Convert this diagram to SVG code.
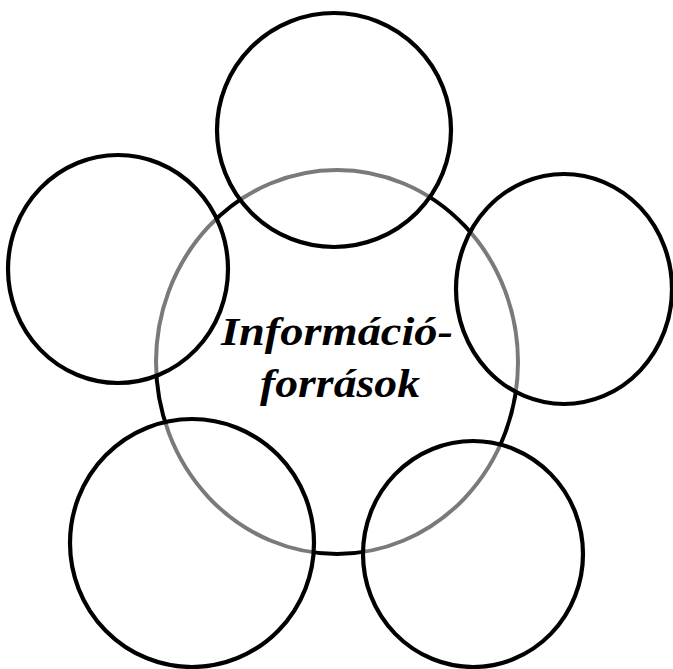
<svg xmlns="http://www.w3.org/2000/svg" width="673" height="669" viewBox="0 0 673 669">
<style>
.bg{fill:#ffffff}
.hub{fill:none;stroke:#000;stroke-width:4}
.sat{fill:#ffffff;fill-opacity:0.48;stroke:#000;stroke-width:4.2}
.lbl{font-family:"Liberation Serif","DejaVu Serif",serif;font-style:italic;font-weight:bold;font-size:40px;fill:#000;text-anchor:middle}
</style>
<rect class="bg" x="0" y="0" width="673" height="669"/>
<g id="hub">
<ellipse class="hub" cx="337" cy="362" rx="181" ry="192"/>
</g>
<g id="connectors"></g>
<g id="sat-top"><ellipse class="sat" cx="334" cy="130" rx="117" ry="117"/></g>
<g id="sat-left"><ellipse class="sat" cx="118" cy="269" rx="110" ry="114"/></g>
<g id="sat-right"><ellipse class="sat" cx="564" cy="289" rx="108" ry="115"/></g>
<g id="sat-bottom-left"><ellipse class="sat" cx="192" cy="543" rx="122" ry="124"/></g>
<g id="sat-bottom-right"><ellipse class="sat" cx="473" cy="554" rx="110" ry="113"/></g>
<g id="hub-label">
<text class="lbl" x="337" y="345" textLength="232" lengthAdjust="spacingAndGlyphs">Információ-</text>
<text class="lbl" x="340" y="397" textLength="160" lengthAdjust="spacingAndGlyphs">források</text>
</g>
</svg>
